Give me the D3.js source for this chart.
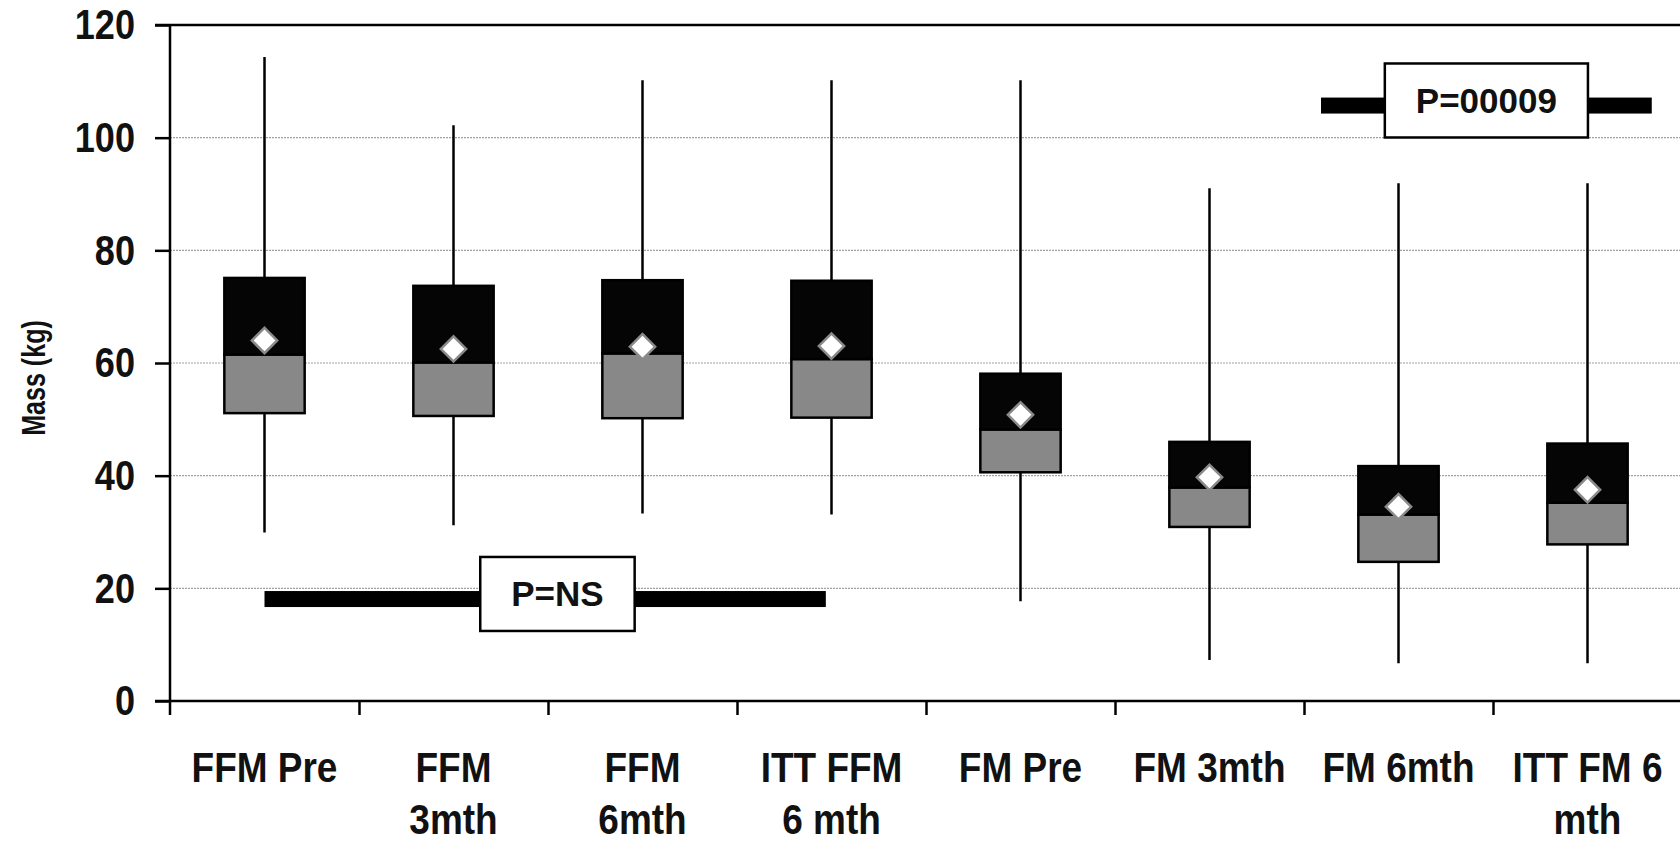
<!DOCTYPE html>
<html>
<head>
<meta charset="utf-8">
<script src="https://cdn.jsdelivr.net/npm/d3@7"></script>
<style>
  body { margin: 0; background: #fff; }
  svg { display: block; }
  .bold { font-family: "Liberation Sans", Arial, sans-serif; font-weight: bold; fill: #111; }
</style>
</head>
<body>
<div id="chart"></div>
<script>
// Body composition box plot (mass in kg)
const categories = ['FFM Pre', 'FFM\n3mth', 'FFM\n6mth', 'ITT FFM\n6 mth', 'FM Pre', 'FM 3mth', 'FM 6mth', 'ITT FM 6\nmth'];
const whiskerMin = [29.9, 31.2, 33.3, 33.1, 17.7, 7.3, 6.7, 6.7];
const lowerQ     = [51.1, 50.6, 50.2, 50.3, 40.6, 30.9, 24.7, 27.8];
const medians    = [61.5, 60.1, 61.7, 60.7, 48.2, 37.9, 33.1, 35.2];
const upperQ     = [75.1, 73.7, 74.7, 74.6, 58.1, 46.0, 41.7, 45.7];
const whiskerMax = [114.3, 102.2, 110.2, 110.2, 110.2, 91.0, 91.9, 91.9];
const means      = [64.0, 62.5, 62.9, 63.0, 50.8, 39.7, 34.5, 37.5];
const yTicks = [0, 20, 40, 60, 80, 100, 120];

// significance bars: start/end in category units, level in kg
const pLabels = ['P=NS', 'P=00009'];
const pStart = [0.5, 6.09];
const pEnd = [3.47, 7.84];
const pLevel = [18.1, 105.7];
const pBoxLevel = [19.0, 106.6];
const pBoxCenter = [2.05, 6.965];

const W = 1680, H = 843;
const margin = { top: 25, left: 170, right: -2, bottom: 142 };
const squeeze = 0.86; // condensed look of the original lettering

const svg = d3.select('#chart').append('svg')
    .attr('width', W)
    .attr('height', H);

const x = d3.scaleLinear()
    .domain([0, categories.length])
    .range([margin.left, W - margin.right]);

const xBand = d3.scaleBand()
    .domain(d3.range(categories.length))
    .range([margin.left, W - margin.right]);

const y = d3.scaleLinear()
    .domain([0, 120])
    .range([H - margin.bottom, margin.top]);

// Grid lines
svg.append('g')
    .selectAll('line')
    .data(yTicks.filter(t => t > 0 && t < 120))
    .enter()
    .append('line')
    .attr('x1', margin.left)
    .attr('x2', W)
    .attr('y1', d => y(d))
    .attr('y2', d => y(d))
    .style('stroke', '#a0a0a0')
    .style('stroke-width', 1.2)
    .style('stroke-dasharray', '2,1');

// Top border
svg.append('line')
    .attr('x1', margin.left - 15)
    .attr('x2', W)
    .attr('y1', y(120))
    .attr('y2', y(120))
    .style('stroke', '#000')
    .style('stroke-width', 2.5);

// Y axis ticks
const yAxis = svg.append('g')
    .attr('transform', `translate(${margin.left},0)`)
    .call(d3.axisLeft(y).tickValues(yTicks).tickSize(15).tickSizeOuter(0).tickFormat(''));
yAxis.select('.domain').remove();
yAxis.selectAll('line').style('stroke', '#000').style('stroke-width', 2.5);

// Y tick labels (squeezed horizontally)
svg.append('g')
    .selectAll('text')
    .data(yTicks)
    .enter()
    .append('text')
    .attr('class', 'bold')
    .attr('text-anchor', 'end')
    .attr('dominant-baseline', 'central')
    .attr('transform', d => `translate(135,${y(d)}) scale(${squeeze},1)`)
    .style('font-size', '42px')
    .text(d => d);

svg.append('line')
    .attr('x1', margin.left)
    .attr('x2', margin.left)
    .attr('y1', y(120))
    .attr('y2', y(0) + 14)
    .style('stroke', '#000')
    .style('stroke-width', 2.5);

// X axis ticks at category boundaries
const xAxis = svg.append('g')
    .attr('transform', `translate(0,${y(0)})`)
    .call(d3.axisBottom(x).tickValues(d3.range(1, categories.length + 1)).tickSize(14).tickSizeOuter(0).tickFormat(''));
xAxis.select('.domain').remove();
xAxis.selectAll('line').style('stroke', '#000').style('stroke-width', 2.5);

svg.append('line')
    .attr('x1', margin.left - 15)
    .attr('x2', W)
    .attr('y1', y(0))
    .attr('y2', y(0))
    .style('stroke', '#000')
    .style('stroke-width', 2.5);

// Category labels
const cx = i => xBand(i) + xBand.bandwidth() / 2;
const labels = svg.append('g')
    .selectAll('text')
    .data(categories)
    .enter()
    .append('text')
    .attr('class', 'bold')
    .attr('text-anchor', 'middle')
    .attr('transform', (d, i) => `translate(${cx(i)},782) scale(${squeeze},1)`)
    .style('font-size', '43px');
labels.selectAll('tspan')
    .data(d => d.split('\n'))
    .enter()
    .append('tspan')
    .attr('x', 0)
    .attr('dy', (d, i) => i === 0 ? 0 : 52)
    .text(d => d);

// Y axis title
svg.append('text')
    .attr('class', 'bold')
    .attr('transform', `translate(45,378) rotate(-90) scale(0.76,1)`)
    .attr('text-anchor', 'middle')
    .style('font-size', '33px')
    .text('Mass (kg)');

// Box plots
const boxW = xBand.bandwidth() * 0.425;
const boxes = svg.append('g');

boxes.selectAll('.whisker')
    .data(categories)
    .enter()
    .append('line')
    .attr('class', 'whisker')
    .attr('x1', (d, i) => cx(i))
    .attr('x2', (d, i) => cx(i))
    .attr('y1', (d, i) => y(whiskerMax[i]))
    .attr('y2', (d, i) => y(whiskerMin[i]))
    .style('stroke', '#000')
    .style('stroke-width', 2.5);

boxes.selectAll('.box-low')
    .data(categories)
    .enter()
    .append('rect')
    .attr('class', 'box-low')
    .attr('x', (d, i) => cx(i) - boxW / 2)
    .attr('width', boxW)
    .attr('y', (d, i) => y(medians[i]))
    .attr('height', (d, i) => y(lowerQ[i]) - y(medians[i]))
    .attr('fill', '#888')
    .attr('stroke', '#000')
    .attr('stroke-width', 2.5);

boxes.selectAll('.box-high')
    .data(categories)
    .enter()
    .append('rect')
    .attr('class', 'box-high')
    .attr('x', (d, i) => cx(i) - boxW / 2)
    .attr('width', boxW)
    .attr('y', (d, i) => y(upperQ[i]))
    .attr('height', (d, i) => y(medians[i]) - y(upperQ[i]))
    .attr('fill', '#050505')
    .attr('stroke', '#000')
    .attr('stroke-width', 2.5);

// Mean markers
const diamond = d3.symbol().type(d3.symbolSquare).size(320);
boxes.selectAll('.mean')
    .data(categories)
    .enter()
    .append('path')
    .attr('class', 'mean')
    .attr('d', diamond)
    .attr('transform', (d, i) => `translate(${cx(i)},${y(means[i])}) rotate(45)`)
    .attr('fill', '#fff')
    .attr('stroke', '#8a8a8a')
    .attr('stroke-width', 2.5);

// Significance bars
const sig = svg.append('g')
    .selectAll('g')
    .data(pLabels)
    .enter()
    .append('g');

sig.append('rect')
    .attr('x', (d, i) => x(pStart[i]))
    .attr('width', (d, i) => x(pEnd[i]) - x(pStart[i]))
    .attr('y', (d, i) => y(pLevel[i]) - 8)
    .attr('height', 16)
    .attr('fill', '#000');

const pText = sig.append('text')
    .attr('class', 'bold')
    .attr('text-anchor', 'middle')
    .attr('dominant-baseline', 'central')
    .attr('x', (d, i) => x(pBoxCenter[i]))
    .attr('y', (d, i) => y(pBoxLevel[i]))
    .style('font-size', '35px')
    .text(d => d);

pText.each(function (d, i) {
    const bb = this.getBBox();
    d3.select(this.parentNode).insert('rect', 'text')
        .attr('x', bb.x - 31)
        .attr('y', y(pBoxLevel[i]) - 37)
        .attr('width', bb.width + 62)
        .attr('height', 74)
        .attr('fill', '#fff')
        .attr('stroke', '#000')
        .attr('stroke-width', 2.5);
});
</script>
</body>
</html>
